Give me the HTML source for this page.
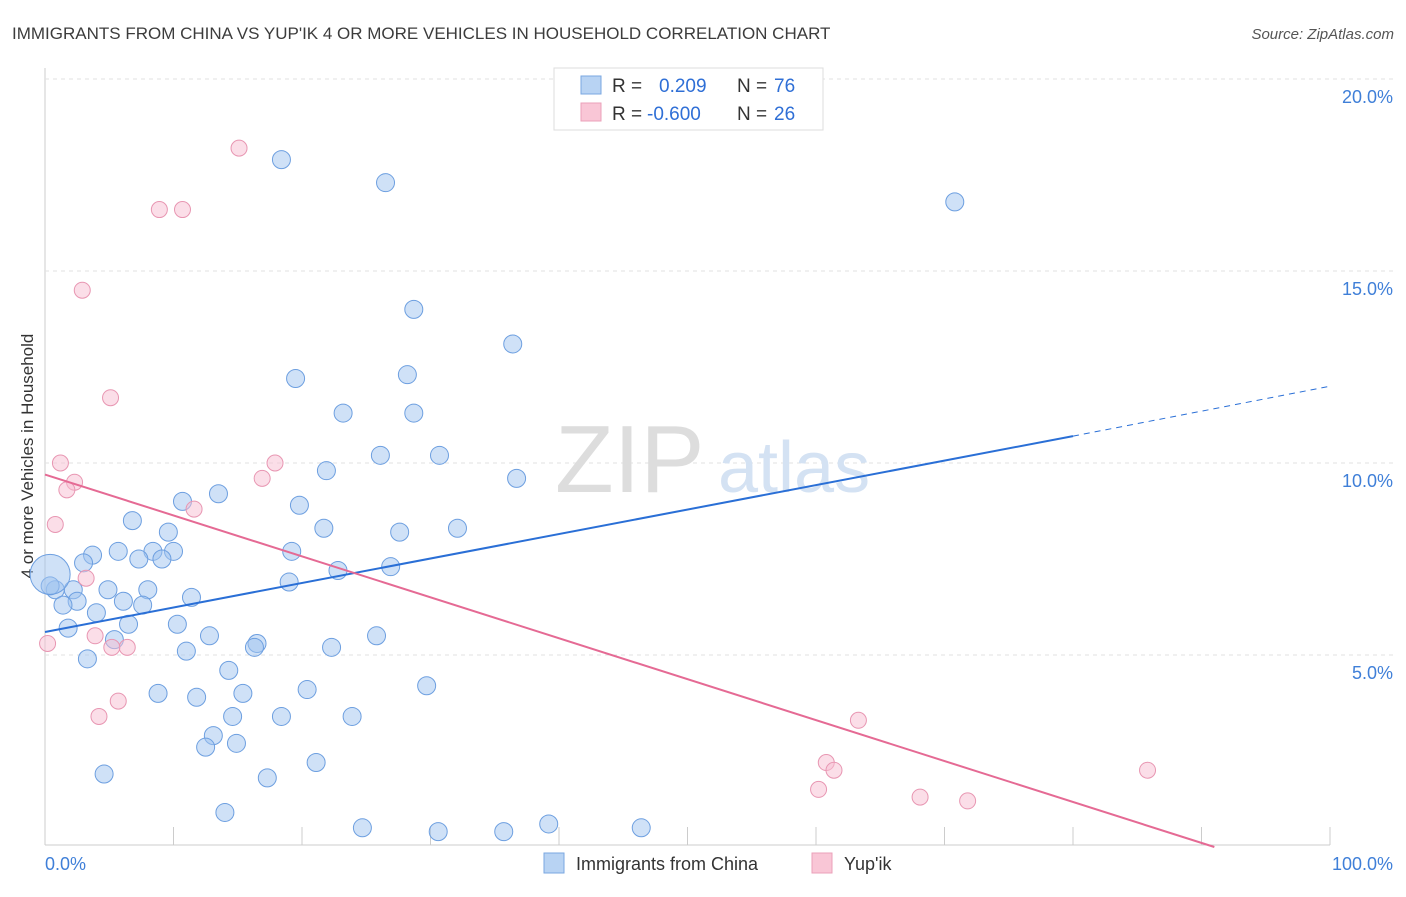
<!DOCTYPE html>
<html><head><meta charset="utf-8"><style>
body{margin:0;background:#fff;font-family:"Liberation Sans",sans-serif;}
svg text{font-family:"Liberation Sans",sans-serif;}
</style></head><body>
<svg id="chart" width="1406" height="892" xmlns="http://www.w3.org/2000/svg">
<text x="12" y="39" font-size="17" fill="#3c3c3c">IMMIGRANTS FROM CHINA VS YUP'IK 4 OR MORE VEHICLES IN HOUSEHOLD CORRELATION CHART</text>
<text x="1394" y="39" font-size="15" fill="#555" text-anchor="end" font-style="italic">Source: ZipAtlas.com</text>
<g id="grid"></g>
<text x="555" y="492" font-size="96" fill="#ddd" font-family="Liberation Serif">ZIP</text>
<text x="718" y="492" font-size="72" fill="#d4e2f3">atlas</text>
<text transform="translate(33,456) rotate(-90)" font-size="17" fill="#333" text-anchor="middle">4 or more Vehicles in Household</text>
<g id="points"></g>
<g id="trends"></g>
<g>
<rect x="554" y="68" width="269" height="62" fill="#fff" stroke="#ddd"/>
<rect x="581" y="76" width="20" height="18" fill="#b8d3f3" stroke="#7aa7e0"/>
<rect x="581" y="103" width="20" height="18" fill="#f9c6d6" stroke="#eba0b9"/>
<text x="612" y="92" font-size="19" fill="#333">R = </text><text x="659" y="92" font-size="19" fill="#2f6fd6">0.209</text>
<text x="737" y="92" font-size="19" fill="#333">N = </text><text x="774" y="92" font-size="19" fill="#2f6fd6">76</text>
<text x="612" y="120" font-size="19" fill="#333">R = </text><text x="647" y="120" font-size="19" fill="#2f6fd6">-0.600</text>
<text x="737" y="120" font-size="19" fill="#333">N = </text><text x="774" y="120" font-size="19" fill="#2f6fd6">26</text>
</g>
<g>
<rect x="544" y="853" width="20" height="20" fill="#b8d3f3" stroke="#7aa7e0"/>
<text x="576" y="870" font-size="18" fill="#333">Immigrants from China</text>
<rect x="812" y="853" width="20" height="20" fill="#f9c6d6" stroke="#eba0b9"/>
<text x="844" y="870" font-size="18" fill="#333">Yup'ik</text>
</g>
</svg>
<script>
const yTicks=[5,10,15,20];
const xTickLabels=["0.0%","100.0%"];
const chinaX=[18.4,26.5,70.8,28.7,36.4,19.5,28.2,23.2,28.7,26.1,30.7,21.9,36.7,10.7,13.5,19.8,6.8,9.6,21.7,27.6,32.1,5.7,8.4,10,19.2,3.7,7.3,9.1,3,26.9,22.8,19,4.9,8,2.2,0.8,0.4,11.4,2.5,6.1,1.4,7.6,4,6.5,1.8,10.3,12.8,25.8,5.4,16.5,16.3,22.3,11,3.3,14.3,29.7,20.4,8.8,11.8,15.4,14.6,18.4,23.9,13.1,14.9,12.5,21.1,4.6,17.3,14,24.7,30.6,35.7,39.2,46.4,0.4];
const chinaY=[17.9,17.3,16.8,14,13.1,12.2,12.3,11.3,11.3,10.2,10.2,9.8,9.6,9,9.2,8.9,8.5,8.2,8.3,8.2,8.3,7.7,7.7,7.7,7.7,7.6,7.5,7.5,7.4,7.3,7.2,6.9,6.7,6.7,6.7,6.7,6.8,6.5,6.4,6.4,6.3,6.3,6.1,5.8,5.7,5.8,5.5,5.5,5.4,5.3,5.2,5.2,5.1,4.9,4.6,4.2,4.1,4,3.9,4,3.4,3.4,3.4,2.9,2.7,2.6,2.2,1.9,1.8,0.9,0.5,0.4,0.4,0.6,0.5,7.1];
const chinaR=[9,9,9,9,9,9,9,9,9,9,9,9,9,9,9,9,9,9,9,9,9,9,9,9,9,9,9,9,9,9,9,9,9,9,9,9,9,9,9,9,9,9,9,9,9,9,9,9,9,9,9,9,9,9,9,9,9,9,9,9,9,9,9,9,9,9,9,9,9,9,9,9,9,9,9,20];
const yupikX=[15.1,8.9,10.7,2.9,5.1,1.2,17.9,2.3,1.7,16.9,0.8,11.6,3.2,3.9,6.4,5.2,0.2,5.7,4.2,63.3,60.8,61.4,60.2,68.1,71.8,85.8];
const yupikY=[18.2,16.6,16.6,14.5,11.7,10,10,9.5,9.3,9.6,8.4,8.8,7,5.5,5.2,5.2,5.3,3.8,3.4,3.3,2.2,2,1.5,1.3,1.2,2];
const chinaTrend=[[0,5.6],[80,10.7],[100,12]];
const yupikTrend=[[0,9.7],[91,0]];
const L=45,R=1330,B=847,T=79;
const sx=v=>L+(R-L)*v/100, sy=v=>B-(B-T)*v/20;
const NS="http://www.w3.org/2000/svg";
function mk(tag,attrs,parent){const e=document.createElementNS(NS,tag);for(const k in attrs)e.setAttribute(k,attrs[k]);parent.appendChild(e);return e;}
const grid=document.getElementById('grid');
const xa=mk('line',{x1:L,y1:845,x2:1330,y2:845,stroke:'#ccc'},grid);


const ya=mk('line',{x1:L,y1:68,x2:L,y2:845,stroke:'#ccc'},grid);


yTicks.forEach(t=>{
 const g=mk('line',{x1:L,y1:sy(t),x2:1394,y2:sy(t),stroke:'#e2e2e2','stroke-dasharray':'4,4'},grid);
 
 
 const tx=mk('text',{x:1393,y:sy(t)+24,'font-size':18,fill:'#3f7fd8','text-anchor':'end'},grid);
 tx.textContent=t.toFixed(1)+'%';
 
 
});
for(let i=0;i<=10;i++){
 const tk=mk('line',{x1:sx(i*10),y1:827,x2:sx(i*10),y2:845,stroke:'#ccc'},grid);
 
 
}
[[0,45,'start'],[1,1393,'end']].forEach(([i,x,a])=>{
 const t=mk('text',{x:x,y:870,'font-size':18,fill:'#3f7fd8','text-anchor':a},grid);
 t.textContent=xTickLabels[i];
 
 
});
const pts=document.getElementById('points');
chinaX.forEach((x,i)=>{
 const c=mk('circle',{cx:sx(x),cy:sy(chinaY[i]),r:chinaR[i],fill:'rgba(160,196,240,0.5)',stroke:'#6d9fe0','stroke-width':1},pts);
 
 
});
yupikX.forEach((x,i)=>{
 const c=mk('circle',{cx:sx(x),cy:sy(yupikY[i]),r:8,fill:'rgba(248,190,210,0.5)',stroke:'#e896b2','stroke-width':1},pts);
 
 
});
const tr=document.getElementById('trends');
const b1=mk('line',{x1:sx(chinaTrend[0][0]),y1:sy(chinaTrend[0][1]),x2:sx(chinaTrend[1][0]),y2:sy(chinaTrend[1][1]),stroke:'#2a6fd6','stroke-width':2},tr);


const b2=mk('line',{x1:sx(chinaTrend[1][0]),y1:sy(chinaTrend[1][1]),x2:sx(chinaTrend[2][0]),y2:sy(chinaTrend[2][1]),stroke:'#2a6fd6','stroke-width':1,'stroke-dasharray':'6,5'},tr);


const p1=mk('line',{x1:sx(yupikTrend[0][0]),y1:sy(yupikTrend[0][1]),x2:sx(yupikTrend[1][0]),y2:sy(yupikTrend[1][1]),stroke:'#e56a94','stroke-width':2},tr);


</script>
</body></html>
